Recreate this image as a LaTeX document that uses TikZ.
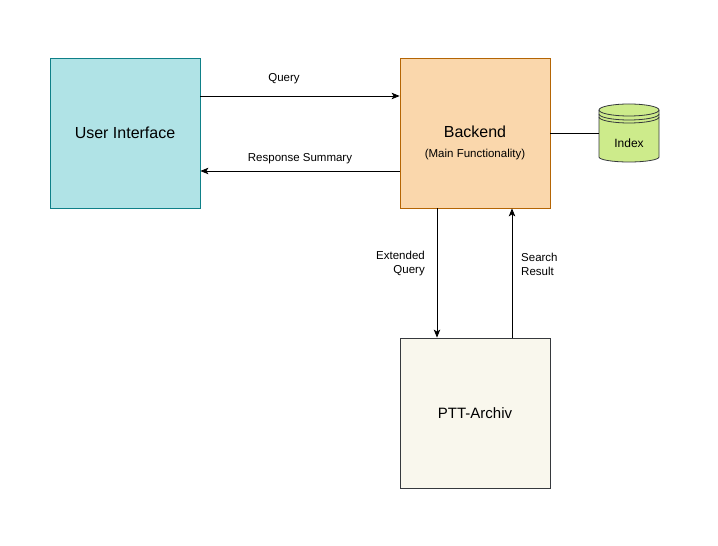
\documentclass[tikz,border=0pt]{standalone}
\usepackage{fontspec}
\setmainfont{Liberation Sans}
\usetikzlibrary{arrows.meta}
\definecolor{uifill}{HTML}{B0E3E6}
\definecolor{uiline}{HTML}{0E8088}
\definecolor{bkfill}{HTML}{FAD7AC}
\definecolor{bkline}{HTML}{B46504}
\definecolor{arfill}{HTML}{F9F7ED}
\definecolor{grline}{HTML}{36393D}
\definecolor{idxfill}{HTML}{CDEB8B}
\begin{document}
\begin{tikzpicture}[x=1pt,y=1pt,
        box/.style={draw,line width=0.8pt,minimum size=150pt,inner sep=0pt},
        flow/.style={-{Stealth[length=8pt,width=6.5pt,inset=2pt]},line width=0.8pt},
        lbl/.style={font=\fontsize{11.5}{14}\selectfont,inner sep=0pt}]
    \useasboundingbox[fill=white] (0,0) rectangle (718,546);
    % boxes
    \node[box,fill=uifill,draw=uiline,font=\fontsize{16}{19}\selectfont] (ui) at (125,413) {User Interface};
    \node[box,fill=bkfill,draw=bkline] (backend) at (475,413) {};
    \node[font=\fontsize{16}{19}\selectfont] (bkname) at (475,414) {Backend};
    \node[lbl] (bkinfo) at (475,391) {(Main Functionality)};
    \node[box,fill=arfill,draw=grline,font=\fontsize{15}{18}\selectfont] (archiv) at (475,133) {PTT-Archiv};
    % index cylinder
    \filldraw[fill=idxfill,draw=grline,line width=0.8pt] (599,436) -- (599,389)
        arc[start angle=180,end angle=360,x radius=30,y radius=5] -- (659,436)
        arc[start angle=0,end angle=180,x radius=30,y radius=6] -- cycle;
    \foreach \c in {436,432,429} {
        \draw[grline,line width=0.8pt] (599,\c) arc[start angle=180,end angle=360,x radius=30,y radius=6];
    }
    \node[font=\fontsize{12}{14}\selectfont] (index) at (629,403) {Index};
    \coordinate (idxw) at (599,413);
    % connectors
    \draw[line width=0.8pt] (backend.east) -- (idxw);
    \draw[flow] (ui.east |- 0,450) -- (backend.west |- 0,450);
    \draw[flow] (backend.west |- 0,375) -- (ui.east |- 0,375);
    \draw[flow] (backend.south -| 437,0) -- (archiv.north -| 437,0);
    \draw[flow] (archiv.north -| 512,0) -- (backend.south -| 512,0);
    \node[lbl] (qlbl) at (284,467) {Query};
    \node[lbl] (rlbl) at (300,387) {Response Summary};
    \node[lbl,align=right,anchor=east] (elbl) at (425,282) {Extended\\Query};
    \node[lbl,align=left,anchor=west] (slbl) at (521,282) {Search\\Result};
\end{tikzpicture}
\end{document}
